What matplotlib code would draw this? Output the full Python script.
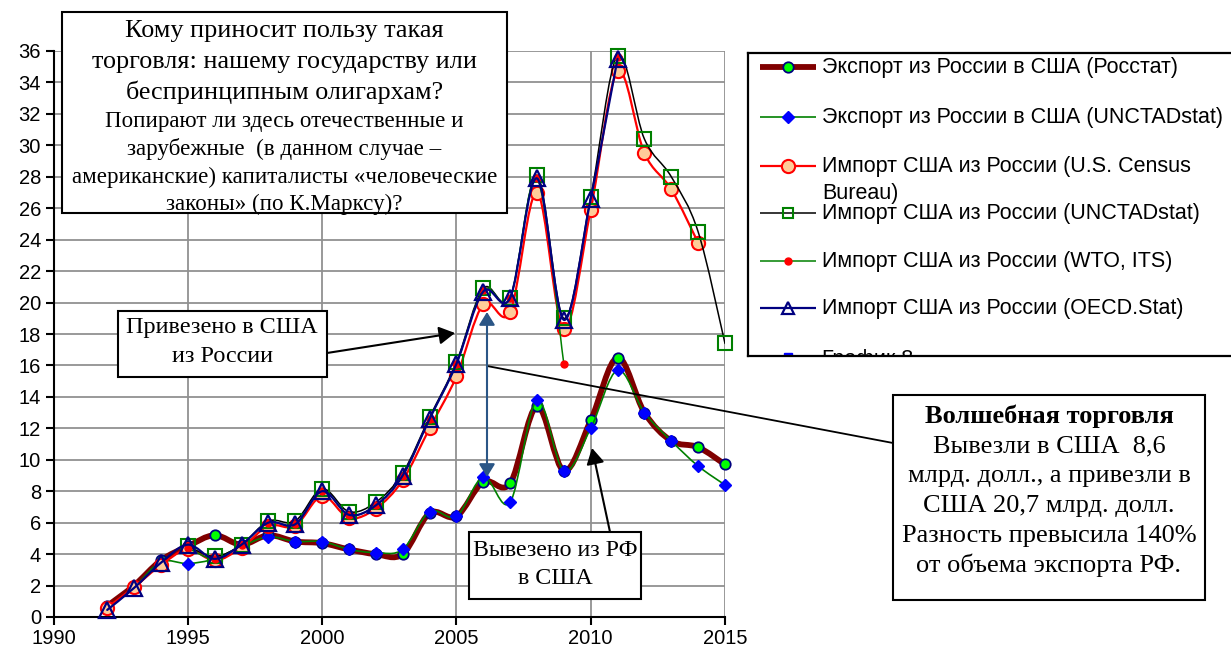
import numpy as np
import matplotlib
matplotlib.use("Agg")
import matplotlib.pyplot as plt
from matplotlib.path import Path
from matplotlib.patches import PathPatch, Rectangle

# --- data (billion USD) ---
years = list(range(1992, 2016))

exp_rosstat = [0.7, 2.0, 3.6, 4.5, 5.2, 4.6, 5.2, 4.8, 4.7, 4.3, 4.0, 4.0,
               6.6, 6.4, 8.6, 8.5, 13.4, 9.3, 12.5, 16.5, 13.0, 11.2, 10.8, 9.7]
exp_unctad = [0.6, 1.9, 3.5, 3.4, 3.7, 4.5, 5.1, 4.8, 4.8, 4.3, 4.1, 4.3,
              6.7, 6.4, 8.9, 7.3, 13.8, 9.3, 12.0, 15.7, 13.0, 11.2, 9.6, 8.4]

census_years = list(range(1992, 2015))
imp_census = [0.6, 1.9, 3.3, 4.3, 3.6, 4.4, 5.8, 5.8, 7.7, 6.3, 6.9, 8.7,
              12.0, 15.3, 19.9, 19.4, 27.0, 18.3, 25.9, 34.7, 29.5, 27.2, 23.8]

unctad_imp_years = list(range(1995, 2016))
imp_unctad = [4.5, 3.85, 4.6, 6.1, 6.1, 8.15, 6.7, 7.3, 9.15, 12.7, 16.2,
              20.9, 20.3, 28.1, 19.0, 26.7, 35.7, 30.4, 28.0, 24.5, 17.4]

wto_years = list(range(1995, 2012))
imp_wto = [4.4, 3.7, 4.6, 6.0, 5.9, 8.0, 6.5, 7.1, 9.0, 12.6, 16.1,
           20.8, 20.3, 27.9, 16.1, np.nan, 35.6]

oecd_years = list(range(1992, 2012))
imp_oecd = [0.45, 1.85, 3.45, 4.6, 3.7, 4.6, 6.0, 5.9, 8.0, 6.5, 7.1, 9.0,
            12.6, 16.1, 20.7, 20.3, 27.9, 18.9, 26.6, 35.5]

labels = ["Экспорт из России в США (Росстат)",
          "Экспорт из России в США (UNCTADstat)",
          "Импорт США из России (U.S. Census",
          "Импорт США из России (UNCTADstat)",
          "Импорт США из России (WTO, ITS)",
          "Импорт США из России (OECD.Stat)",
          "График 8"]

W, H = 1231, 650
SANS = "Liberation Sans"
SERIF = "Liberation Serif"


def smooth_path(xs, ys):
    """Excel-like smoothed line through the points (bezier, splits at NaN)"""
    xs = np.asarray(xs, dtype=float)
    ys = np.asarray(ys, dtype=float)
    verts, codes = [], []
    runs, cur = [], []
    for x, y in zip(xs, ys):
        if np.isnan(y):
            if cur:
                runs.append(cur)
            cur = []
        else:
            cur.append(np.array([x, y]))
    if cur:
        runs.append(cur)
    for pts in runs:
        if len(pts) < 2:
            continue
        verts.append(pts[0])
        codes.append(Path.MOVETO)
        n = len(pts)
        for i in range(n - 1):
            p0 = pts[i - 1] if i > 0 else pts[i]
            p1, p2 = pts[i], pts[i + 1]
            p3 = pts[i + 2] if i + 2 < n else pts[i + 1]
            verts += [p1 + (p2 - p0) / 6, p2 - (p3 - p1) / 6, p2]
            codes += [Path.CURVE4] * 3
    return Path(verts, codes)


def series(ax, xs, ys, color, lw, z, **mk):
    ax.add_patch(PathPatch(smooth_path(xs, ys), fill=False, edgecolor=color,
                           lw=lw, zorder=z, capstyle="round", joinstyle="round"))
    ax.plot(xs, ys, linestyle="none", zorder=z + 0.5, clip_on=False, **mk)


fig = plt.figure(figsize=(W / 100, H / 100), dpi=100)
ax = fig.add_axes([53.5 / W, 1 - 617 / H, (725 - 53.5) / W, (617 - 51) / H])
ax.set_xlim(1990, 2015)
ax.set_ylim(0, 36)
ax.set_xticks(range(1990, 2016, 5))
ax.set_yticks(range(0, 37, 2))
ax.grid(True, color="#919191", lw=1.3, zorder=0)
ax.set_axisbelow(True)
for s in ["top", "right"]:
    ax.spines[s].set_visible(False)
for s in ["left", "bottom"]:
    ax.spines[s].set_linewidth(1.5)
ax.tick_params(direction="out", length=6, width=1.5, labelsize=14.5, pad=3)
for lab in ax.get_xticklabels() + ax.get_yticklabels():
    lab.set_fontfamily(SANS)

series(ax, years, exp_rosstat, "#800000", 4.2, 2,
       marker="o", ms=7.5, mfc="#00FF00", mec="#000080", mew=1.3)
series(ax, years, exp_unctad, "#008000", 1.2, 3,
       marker="D", ms=6.5, mfc="#0000FF", mec="#0000FF")
series(ax, census_years, imp_census, "#FF0000", 1.6, 4,
       marker="o", ms=9.5, mfc="#FFCC99", mec="#FF0000", mew=1.5)
series(ax, unctad_imp_years, imp_unctad, "#000000", 1.1, 5,
       marker="s", ms=9.5, mfc="none", mec="#008000", mew=1.5)
series(ax, wto_years, imp_wto, "#008000", 1.1, 6,
       marker="o", ms=5, mfc="#FF0000", mec="#FF0000")
series(ax, oecd_years, imp_oecd, "#000080", 1.6, 7,
       marker="^", ms=11, mfc="none", mec="#000080", mew=1.6)

# --- legend (drawn by hand, bottom row cut by the frame) ---
lg = fig.add_axes([748 / W, 1 - 356 / H, (1240 - 748) / W, (356 - 53) / H])
lg.set_xlim(748, 1240)
lg.set_ylim(356, 53)
lg.set_xticks([])
lg.set_yticks([])
for s in lg.spines.values():
    s.set_linewidth(1.6)
rows = [67, 117, 166, 213, 261, 308, 357]
styles = [dict(color="#800000", lw=4.2, marker="o", ms=7.5, mfc="#00FF00", mec="#000080", mew=1.3),
          dict(color="#008000", lw=1.2, marker="D", ms=6.5, mfc="#0000FF", mec="#0000FF"),
          dict(color="#FF0000", lw=1.6, marker="o", ms=9.5, mfc="#FFCC99", mec="#FF0000", mew=1.5),
          dict(color="#000000", lw=1.1, marker="s", ms=7, mfc="none", mec="#008000", mew=1.5),
          dict(color="#008000", lw=1.1, marker="o", ms=5, mfc="#FF0000", mec="#FF0000"),
          dict(color="#000080", lw=1.6, marker="^", ms=9, mfc="none", mec="#000080", mew=1.6),
          dict(color="#0000FF", lw=2.5, marker="s", ms=6, mfc="#0000FF", mec="#0000FF")]
for y, lab, st in zip(rows, labels, styles):
    lg.plot([760, 788, 816], [y, y, y], markevery=[1], solid_capstyle="butt", **st)
    lg.text(822, y + 0.5 if y < 350 else y + 2, lab, fontsize=15.5, family=SANS,
            va="center", ha="left", clip_on=True)
lg.text(822, 194, "Bureau)", fontsize=15.5, family=SANS, va="center", ha="left")

# --- annotations in pixel coordinates ---
ov = fig.add_axes([0, 0, 1, 1], zorder=10)
ov.set_xlim(0, W)
ov.set_ylim(H, 0)
ov.axis("off")
ov.patch.set_alpha(0)


def box(x0, y0, x1, y1):
    ov.add_patch(Rectangle((x0, y0), x1 - x0, y1 - y0, facecolor="white",
                           edgecolor="black", lw=1.5, zorder=1))


def line_text(x, y, s, size, weight="normal"):
    ov.text(x, y, s, fontsize=size, family=SERIF, ha="center", va="center",
            weight=weight, zorder=3)


box(62, 12, 507, 213)
for y, s in [(31, "Кому приносит пользу такая"),
             (62, "торговля: нашему государству или"),
             (92, "беспринципным олигархам?")]:
    line_text(284.5, y, s, 18.8)
for y, s in [(121, "Попирают ли здесь отечественные и"),
             (149, "зарубежные  (в данном случае –"),
             (177, "американские) капиталисты «человеческие"),
             (204, "законы» (по К.Марксу)?")]:
    line_text(284.5, y, s, 16.6)

box(118, 311, 327, 377)
line_text(222, 328, "Привезено в США", 17.4)
line_text(222, 356, "из России", 17.4)

box(469, 532, 641, 599)
line_text(555, 550, "Вывезено из РФ", 17.2)
line_text(555, 579, "в США", 17.2)

box(893, 395, 1205, 600)
line_text(1049, 416, "Волшебная торговля", 19, "bold")
for y, s in [(446, "Вывезли в США  8,6"),
             (476, "млрд. долл., а привезли в"),
             (506, "США 20,7 млрд. долл."),
             (536, "Разность превысила 140%"),
             (565, "от объема экспорта РФ.")]:
    line_text(1049, y, s, 19)

arrow_k = dict(arrowstyle="-|>,head_length=0.8,head_width=0.45", color="black",
               lw=1.5, mutation_scale=12, shrinkA=0, shrinkB=0)
ov.annotate("", xy=(455, 333), xytext=(327, 353), arrowprops=arrow_k, zorder=2)
ov.annotate("", xy=(592, 448), xytext=(610, 532), arrowprops=arrow_k, zorder=2)
ov.plot([487, 893], [366, 443], color="black", lw=1.3, zorder=2)
ov.annotate("", xy=(487, 312), xytext=(487, 477),
            arrowprops=dict(arrowstyle="<|-|>,head_length=0.65,head_width=0.4",
                            color="#2B5686", lw=1.5, mutation_scale=12,
                            shrinkA=0, shrinkB=0), zorder=2)

fig.savefig("out.png", dpi=100, facecolor="white")
